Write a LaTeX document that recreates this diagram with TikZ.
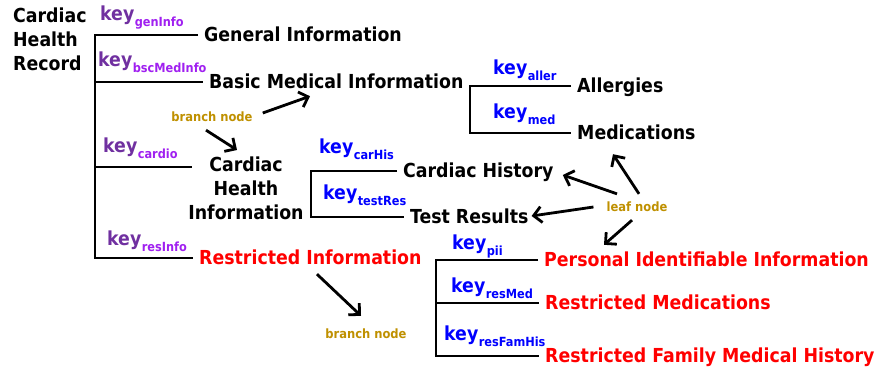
\documentclass[tikz,border=0pt]{standalone}
\usepackage{fontspec}
\setmainfont{DejaVu Sans Condensed}
\usetikzlibrary{arrows.meta}
\definecolor{keyPurple}{RGB}{112, 48, 160}
\definecolor{subPurple}{RGB}{160, 32, 240}
\definecolor{keyBlue}{RGB}{0, 0, 255}
\definecolor{noteGold}{RGB}{191, 144, 0}
\definecolor{resRed}{RGB}{255, 0, 0}
% key labels: "key" plus a lowered, smaller name
\newcommand{\keysub}[2]{\kern0.5pt\raisebox{-6pt}{\fontsize{12.6}{13}\selectfont\color{#1}#2}}
\newcommand{\pkey}[1]{{\color{keyPurple}key}\keysub{subPurple}{#1}}
\newcommand{\bkey}[1]{{\color{keyBlue}key}\keysub{keyBlue}{#1}}

\begin{document}
\begin{tikzpicture}[
    x=1pt, y=-1pt,
    font=\bfseries\fontsize{19.3}{24}\selectfont,
    % record entries
    item/.style={
        anchor=west,
        inner xsep=6pt,
        inner ysep=0pt,
        text height=13pt,
        text depth=0pt
    },
    restricted/.style={item, text=resRed},
    % key labels over the branches
    keylabel/.style={anchor=base west, inner sep=0pt},
    % small gold notes
    note/.style={
        inner sep=0pt,
        text=noteGold,
        font=\bfseries\fontsize{12.8}{13}\selectfont
    },
    % tree lines
    branch/.style={line width=2pt},
    % note arrows
    pointer/.style={
        -{Straight Barb[length=8pt, width=16pt]},
        line width=2.8pt
    }
]
    \useasboundingbox (0,0) rectangle (874,371);

    % --- root ---
    \node[anchor=north west, inner sep=0pt, align=left] (record) at (13,8) {Cardiac\\Health\\Record};

    % --- first level ---
    \node[item] (gen) at (198,35) {General Information};
    \node[item] (bmi) at (203,82) {Basic Medical Information};
    \node[anchor=north, inner sep=0pt, align=center] (cardio) at (246,157) {Cardiac\\Health\\Information};
    \coordinate (cardioEnd) at (192,167);
    \node[restricted] (resInfo) at (193,258) {Restricted Information};
    \coordinate (recTrunk) at (95,258);

    \draw[branch] (gen.west) -| (recTrunk) -- (resInfo.west);
    \draw[branch] (recTrunk |- bmi.west) -- (bmi.west);
    \draw[branch] (recTrunk |- cardioEnd) -- (cardioEnd);

    \node[keylabel] (kGen) at (100,21) {\pkey{genInfo}};
    \node[keylabel] (kBsc) at (98,67) {\pkey{bscMedInfo}};
    \node[keylabel] (kCardio) at (103,153) {\pkey{cardio}};
    \node[keylabel] (kRes) at (107,245) {\pkey{resInfo}};

    % --- basic medical information ---
    \node[item] (aller) at (571,86) {Allergies};
    \node[item] (meds) at (571,133) {Medications};
    \coordinate (bmiTrunk) at (470,133);
    \draw[branch] (aller.west) -| (bmiTrunk) -- (meds.west);

    \node[keylabel] (kAller) at (493,75) {\bkey{aller}};
    \node[keylabel] (kMed) at (493,119) {\bkey{med}};

    % --- cardiac health information ---
    \node[item] (carHis) at (397,171) {Cardiac History};
    \node[item] (tests) at (404,217) {Test Results};
    \coordinate (carTrunk) at (311,217);
    \draw[branch] (carHis.west) -| (carTrunk) -- (tests.west);

    \node[keylabel] (kCarHis) at (319,154) {\bkey{carHis}};
    \node[keylabel] (kTest) at (323,200) {\bkey{testRes}};

    % --- restricted information ---
    \node[restricted] (pii) at (538,260) {Personal Identifiable Information};
    \node[restricted] (rMeds) at (539,303) {Restricted Medications};
    \node[restricted] (rFam) at (539,356) {Restricted Family Medical History};
    \coordinate (resTrunk) at (436,356);
    \draw[branch] (pii.west) -| (resTrunk) -- (rFam.west);
    \draw[branch] (resTrunk |- rMeds.west) -- (rMeds.west);

    \node[keylabel] (kPii) at (452,249) {\bkey{pii}};
    \node[keylabel] (kResMed) at (451,292) {\bkey{resMed}};
    \node[keylabel] (kResFam) at (444,340) {\bkey{resFamHis}};

    % --- notes ---
    \node[note] (branchA) at (212,117) {branch node};
    \draw[pointer] ([shift={(10,-4)}]branchA.east) -- ([shift={(107,7.5)}]bmi.south west);
    \draw[pointer] ([shift={(-6,8)}]branchA.south) -- ([shift={(-9,-7)}]cardio.north);

    \node[note] (branchB) at (366,334) {branch node};
    \draw[pointer] ([shift={(124,9.5)}]resInfo.south west) -- ([shift={(-5,-13)}]branchB.north);

    \node[note] (leaf) at (637,207) {leaf node};
    \draw[pointer] ([shift={(2,-8)}]leaf.north) -- ([shift={(42,14.5)}]meds.south west);
    \draw[pointer] ([shift={(-20,-8)}]leaf.north) -- ([shift={(3,4)}]carHis.east);
    \draw[pointer] ([shift={(-13,0)}]leaf.west) -- ([shift={(-3,-1)}]tests.east);
    \draw[pointer] ([shift={(-5,8)}]leaf.south) -- ([shift={(66,-8.5)}]pii.north west);

\end{tikzpicture}
\end{document}
